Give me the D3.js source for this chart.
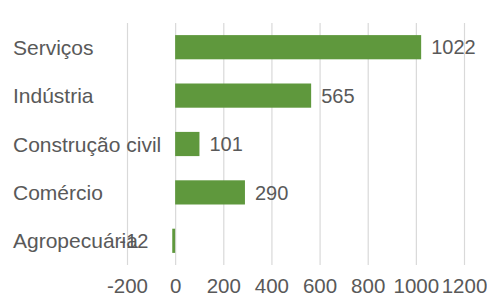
<!DOCTYPE html>
<html>
<head>
<meta charset="utf-8">
<script src="https://cdn.jsdelivr.net/npm/d3@7"></script>
<style>
  body { margin: 0; background: #fff; }
  text { font-family: "Liberation Sans", Arial, sans-serif; fill: #595959; }
</style>
</head>
<body>
<div id="chart"></div>
<script>
// chart data
const categories = ["Serviços", "Indústria", "Construção civil", "Comércio", "Agropecuária"];
const values = [1022, 565, 101, 290, -12];
const tickValues = [-200, 0, 200, 400, 600, 800, 1000, 1200];

const width = 487, height = 300;

const svg = d3.select("#chart").append("svg")
  .attr("width", width)
  .attr("height", height);

const x = d3.scaleLinear()
  .domain([-200, 1200])
  .range([127, 464]);

const y = d3.scaleBand()
  .domain(categories)
  .range([23, 265])
  .paddingInner(0.5)
  .paddingOuter(0.25);

// vertical gridlines
svg.append("g")
  .selectAll("line")
  .data(tickValues)
  .join("line")
  .attr("x1", d => x(d) + 0.5)
  .attr("x2", d => x(d) + 0.5)
  .attr("y1", 23)
  .attr("y2", 265)
  .attr("stroke", "#d9d9d9")
  .attr("stroke-width", 1.2);

// bars
const data = categories.map((c, i) => ({cat: c, val: values[i]}));

svg.append("g")
  .selectAll("rect")
  .data(data)
  .join("rect")
  .attr("x", d => x(Math.min(0, d.val)))
  .attr("y", d => y(d.cat))
  .attr("width", d => Math.abs(x(d.val) - x(0)))
  .attr("height", y.bandwidth())
  .attr("fill", "#5f983d");

// value labels
svg.append("g")
  .selectAll("text")
  .data(data)
  .join("text")
  .attr("x", d => d.val >= 0 ? x(d.val) + 10 : x(d.val) - 24)
  .attr("y", d => y(d.cat) + y.bandwidth() / 2)
  .attr("dy", "0.36em")
  .attr("text-anchor", d => d.val >= 0 ? "start" : "end")
  .attr("font-size", 20)
  .text(d => d.val);

// category labels
svg.append("g")
  .selectAll("text")
  .data(categories)
  .join("text")
  .attr("x", 13)
  .attr("y", d => y(d) + y.bandwidth() / 2)
  .attr("dy", "0.36em")
  .attr("font-size", 21)
  .text(d => d);

// x axis
const xAxis = svg.append("g")
  .attr("transform", "translate(0,265)")
  .call(d3.axisBottom(x).tickValues(tickValues).tickFormat(d => String(d)).tickSize(0).tickPadding(13));
xAxis.select(".domain").remove();
xAxis.selectAll("text")
  .attr("font-size", 20.5)
  .attr("font-family", "Liberation Sans, Arial, sans-serif")
  .attr("fill", "#595959");
</script>
</body>
</html>
